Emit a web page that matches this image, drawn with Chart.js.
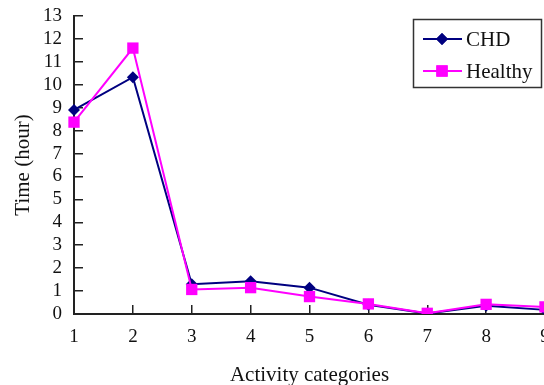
<!DOCTYPE html>
<html>
<head>
<meta charset="utf-8">
<script src="https://cdn.jsdelivr.net/npm/chart.js@4/dist/chart.umd.min.js"></script>
<style>
html,body{margin:0;padding:0;overflow:hidden;background:#fff;width:544px;height:385px;}
canvas{display:block;}
</style>
</head>
<body>
<canvas id="c" width="560" height="385"></canvas>
<script>
const categories = ['1','2','3','4','5','6','7','8','9'];
const chdValues = [8.9, 10.33, 1.3, 1.43, 1.15, 0.4, 0.02, 0.36, 0.18];
const healthyValues = [8.37, 11.6, 1.07, 1.15, 0.76, 0.44, 0.03, 0.42, 0.31];
const yTickMax = 13;
const seriesNames = ['CHD', 'Healthy'];

const NAVY = '#000080';
const MAGENTA = '#ff00ff';
const AXIS = '#222222';
const FONT = '"Liberation Serif", "Times New Roman", serif';

const legendPlugin = {
  id: 'boxLegend',
  afterDraw(chart) {
    const ctx = chart.ctx;
    ctx.save();
    ctx.strokeStyle = '#333';
    ctx.lineWidth = 1.5;
    ctx.strokeRect(413.5, 19.5, 128, 68);
    const rows = [
      {y: 39, color: NAVY, style: 'rectRot', r: 6, label: seriesNames[0]},
      {y: 71, color: MAGENTA, style: 'rect', r: 8, label: seriesNames[1]}
    ];
    rows.forEach(row => {
      ctx.strokeStyle = row.color;
      ctx.lineWidth = 2;
      ctx.beginPath();
      ctx.moveTo(423, row.y);
      ctx.lineTo(462, row.y);
      ctx.stroke();
      ctx.fillStyle = row.color;
      Chart.helpers.drawPoint(ctx, {pointStyle: row.style, radius: row.r, borderWidth: 0}, 442, row.y);
      ctx.fill();
      ctx.fillStyle = '#111';
      ctx.font = '21px ' + FONT;
      ctx.textBaseline = 'middle';
      ctx.textAlign = 'left';
      ctx.fillText(row.label, 466, row.y + 1);
    });
    ctx.restore();
  }
};

new Chart(document.getElementById('c'), {
  type: 'line',
  data: {
    labels: categories,
    datasets: [
      {
        label: seriesNames[0],
        data: chdValues,
        borderColor: NAVY,
        backgroundColor: NAVY,
        borderWidth: 2,
        pointStyle: 'rectRot',
        pointRadius: 6,
        pointBorderWidth: 0,
        pointBackgroundColor: NAVY,
        tension: 0,
        order: 2
      },
      {
        label: seriesNames[1],
        data: healthyValues,
        borderColor: MAGENTA,
        backgroundColor: MAGENTA,
        borderWidth: 2,
        pointStyle: 'rect',
        pointRadius: 8,
        pointBorderWidth: 0,
        pointBackgroundColor: MAGENTA,
        tension: 0,
        order: 1
      }
    ]
  },
  options: {
    responsive: false,
    animation: false,
    layout: {padding: {left: 0, top: 16, right: 15, bottom: 0}},
    plugins: {legend: {display: false}, tooltip: {enabled: false}},
    scales: {
      x: {
        type: 'category',
        offset: false,
        border: {display: true, color: AXIS, width: 2},
        grid: {drawOnChartArea: false, drawTicks: true, tickLength: -9, color: AXIS, lineWidth: 1.5},
        ticks: {color: '#111', font: {family: FONT, size: 19}, padding: 21, autoSkip: false, maxRotation: 0},
        title: {display: true, text: 'Activity categories', color: '#111', font: {family: FONT, size: 21, lineHeight: 0.9}, padding: 0},
        afterFit(scale) { scale.height = 71; scale.paddingLeft = 0; scale.paddingRight = 0; }
      },
      y: {
        min: 0,
        max: yTickMax,
        border: {display: true, color: AXIS, width: 2},
        grid: {drawOnChartArea: false, drawTicks: true, tickLength: -9, color: AXIS, lineWidth: 1.5},
        ticks: {stepSize: 1, autoSkip: false, color: '#111', font: {family: FONT, size: 19}, padding: 21},
        title: {display: true, text: 'Time (hour)', color: '#111', font: {family: FONT, size: 21, lineHeight: 1}, padding: {top: 13, bottom: 0}},
        afterFit(scale) { scale.width = 74; scale.paddingTop = 0; scale.paddingBottom = 0; }
      }
    }
  },
  plugins: [legendPlugin]
});
</script>
</body>
</html>
